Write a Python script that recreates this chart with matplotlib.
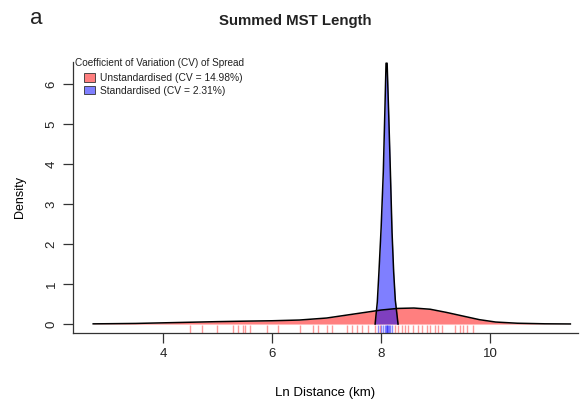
import matplotlib
matplotlib.use("Agg")
import matplotlib.pyplot as plt
from matplotlib.patches import Patch

plt.rcParams['font.family'] = ['Liberation Sans', 'DejaVu Sans']
plt.rcParams['text.color'] = '#222222'
plt.rcParams['xtick.labelcolor'] = '#222222'
plt.rcParams['ytick.labelcolor'] = '#222222'

# density of the unstandardised spread
red_x = [2.72, 3.0, 3.5, 4.0, 4.5, 5.0, 5.5, 6.0, 6.5, 7.0, 7.5, 8.0, 8.3,
         8.6, 8.9, 9.2, 9.5, 9.8, 10.1, 10.5, 11.0, 11.47]
red_y = [0.005, 0.008, 0.015, 0.03, 0.045, 0.06, 0.072, 0.082, 0.10, 0.15,
         0.25, 0.35, 0.39, 0.40, 0.37, 0.29, 0.20, 0.11, 0.05, 0.02, 0.006, 0.002]

# density of the standardised spread
blue_x = [7.89, 7.93, 7.96, 8.00, 8.04, 8.07, 8.09, 8.11, 8.14, 8.17, 8.20, 8.23, 8.26, 8.31]
blue_y = [0.0, 0.55, 1.3, 2.4, 3.8, 5.4, 6.52, 6.52, 5.2, 3.8, 2.3, 1.3, 0.6, 0.0]

# rug values
red_rug = [4.50, 4.72, 4.99, 5.28, 5.38, 5.47, 5.50, 5.60, 5.91, 6.11, 6.51,
           6.75, 6.84, 7.01, 7.10, 7.38, 7.47, 7.56, 7.65, 7.76, 7.89, 7.98,
           8.26, 8.31, 8.39, 8.44, 8.50, 8.59, 8.68, 8.75, 8.84, 8.90, 8.99,
           9.05, 9.12, 9.36, 9.45, 9.51, 9.57, 9.69]
blue_rug = [7.95, 8.00, 8.04, 8.07, 8.09, 8.10, 8.11, 8.12, 8.14, 8.17, 8.20]

x_ticks = [4, 6, 8, 10]
y_ticks = [0, 1, 2, 3, 4, 5, 6]

labels = ["Unstandardised (CV = 14.98%)", "Standardised (CV = 2.31%)"]

fig = plt.figure(figsize=(5.85, 4.07), dpi=100)
ax = fig.add_axes([73 / 585, 1 - 333 / 407, 505 / 585, 271 / 407])

ax.fill_between(red_x, red_y, 0, color=(1, 0, 0, 0.5), lw=0)
ax.plot(red_x, red_y, color='black', lw=1.1)
ax.fill_between(blue_x, blue_y, 0, color=(0, 0, 1, 0.5), lw=0)
ax.plot(blue_x, blue_y, color='black', lw=1.1)

ax.vlines(red_rug, -0.22, -0.03, color='red', alpha=0.4, lw=1.0)
ax.vlines(blue_rug, -0.22, -0.03, color='blue', alpha=0.45, lw=1.0)

ax.set_xlim(2.35, 11.61)
ax.set_ylim(-0.224, 6.55)
ax.set_xticks(x_ticks)
ax.set_yticks(y_ticks)
ax.tick_params(direction='out', length=7, width=0.9, labelsize=9.5, pad=4,
               color='#333333')
for lab in ax.get_yticklabels():
    lab.set_rotation(90)
    lab.set_va('center')

for s in ['top', 'right']:
    ax.spines[s].set_visible(False)
for s in ['left', 'bottom']:
    ax.spines[s].set_linewidth(0.9)
    ax.spines[s].set_color('#333333')

ax.set_xlabel("Ln Distance (km)", fontsize=9.5, labelpad=19)
ax.set_ylabel("Density", fontsize=9, labelpad=14)

fig.text(75 / 585, 1 - 63 / 407, "Coefficient of Variation (CV) of Spread",
         fontsize=7.2, ha='left', va='center')
handles = [Patch(facecolor=(1, 0, 0, 0.5), edgecolor='#333333', lw=0.6),
           Patch(facecolor=(0, 0, 1, 0.5), edgecolor='#333333', lw=0.6)]
ax.legend(handles, labels, loc='upper left',
          bbox_to_anchor=(84 / 585, 1 - 73 / 407), bbox_transform=fig.transFigure,
          frameon=False, fontsize=7.4, handlelength=1.1, handleheight=0.9,
          handletextpad=0.45, labelspacing=0.25, borderpad=0, borderaxespad=0)

fig.text(295 / 585, 1 - 21 / 407, "Summed MST Length", fontsize=10.8,
         fontweight='bold', ha='center', va='center')
fig.text(36 / 585, 1 - 18 / 407, "a", fontsize=16, ha='center', va='center')

fig.savefig("out.png", dpi=100)
